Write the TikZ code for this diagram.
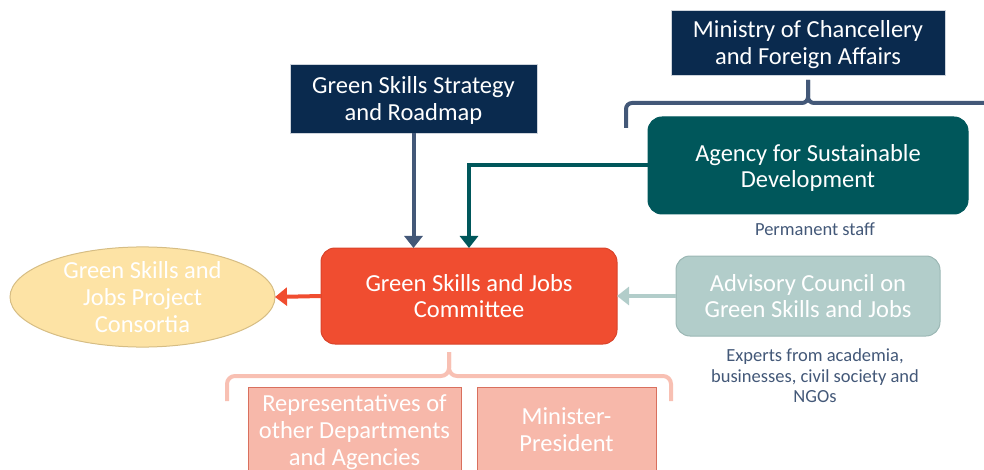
\documentclass[tikz,border=0pt]{standalone}
\usepackage{fontspec}
\setmainfont{Carlito}
\usetikzlibrary{arrows.meta,shapes.geometric}
\definecolor{navy}{HTML}{0A2A4E}
\definecolor{slate}{HTML}{435878}
\definecolor{teal}{HTML}{00575B}
\definecolor{redbox}{HTML}{F04D30}
\definecolor{redline}{HTML}{D9432A}
\definecolor{yellowbox}{HTML}{FDE3A5}
\definecolor{yellowline}{HTML}{D6BD84}
\definecolor{advbox}{HTML}{B2CDCA}
\definecolor{advline}{HTML}{9BB7B4}
\definecolor{pinkbox}{HTML}{F7B8AA}
\definecolor{pinkline}{HTML}{D9705E}
\definecolor{pinkbracket}{HTML}{F8C0B3}
\tikzset{
  every node/.style={inner sep=0pt, outer sep=0pt},
  bigtext/.style={font=\fontsize{24.5}{26.8}\selectfont, text=white, align=center},
  smalltext/.style={font=\fontsize{18.5}{20.5}\selectfont, text=slate, align=center},
  navybox/.style={fill=navy, draw=white!80!navy, line width=0.6pt},
  roundbox/.style={bigtext, rounded corners=14pt, line width=1pt},
  pinkrect/.style={fill=pinkbox, draw=pinkline, line width=1pt},
  arr/.style={line width=4pt, -{Triangle[length=12pt,width=18pt]}},
}
\begin{document}
\begin{tikzpicture}[x=1pt,y=-1pt]
\useasboundingbox (0,0) rectangle (984,470);
% top bracket
\draw[slate, line width=4pt, rounded corners=6pt] (626,128) -- (626,103) -- (808,103) -- (808,80);
\draw[slate, line width=4pt, rounded corners=6pt] (808,80) -- (808,103) -- (992,103);
% bottom bracket
\draw[pinkbracket, line width=4pt, rounded corners=8pt] (227,401) -- (227,376) -- (449,376) -- (449,352);
\draw[pinkbracket, line width=4pt, rounded corners=8pt] (449,352) -- (449,376) -- (671,376) -- (671,401);

\node[navybox, minimum width=274pt, minimum height=65pt] (ministry) at (808,42.5) {};
\node[bigtext] (ministrytext) at (808,44.5) {Ministry of Chancellery\\and Foreign Affairs};
\node[navybox, minimum width=247pt, minimum height=69pt] (strategy) at (413.5,98.5) {};
\node[bigtext] (strategytext) at (413.5,100.5) {Green Skills Strategy\\and Roadmap};
\node[roundbox, fill=teal, draw=teal, minimum width=320pt, minimum height=97pt] (agency) at (808,165.5) {};
\node[bigtext] (agencytext) at (808,168) {Agency for Sustainable\\Development};
\node[smalltext] (staff) at (815,229) {Permanent staff};
\node[roundbox, fill=redbox, draw=redline, minimum width=296pt, minimum height=96pt] (committee) at (469,296) {Green Skills and Jobs\\Committee};
\node[ellipse, bigtext, fill=yellowbox, draw=yellowline, line width=1pt, minimum width=265pt, minimum height=94pt] (consortia) at (142.5,297) {Green Skills and\\Jobs Project\\Consortia};
\node[roundbox, fill=advbox, draw=advline, minimum width=264pt, minimum height=80pt] (advisory) at (808,296) {Advisory Council on\\Green Skills and Jobs};
\node[smalltext] (experts) at (815,376) {Experts from academia,\\businesses, civil society and\\NGOs};
\node[pinkrect, minimum width=213pt, minimum height=100pt, anchor=north] (reps) at (354.5,387) {};
\node[bigtext, anchor=north] (repstext) at (354.5,395) {Representatives of\\other Departments\\and Agencies};
\node[pinkrect, minimum width=179pt, minimum height=100pt, anchor=north] (minister) at (566.5,387) {};
\node[bigtext, anchor=north] (ministertext) at (566.5,408) {Minister-\\President};

% arrows
\draw[arr, slate] (strategy.south) -- (strategy.south |- committee.north);
\draw[arr, teal] (agency.west) -| (committee.north);
\draw[arr, redbox] (committee.west) -- (consortia.east);
\draw[arr, advbox] (advisory.west) -- (committee.east);
\end{tikzpicture}
\end{document}
